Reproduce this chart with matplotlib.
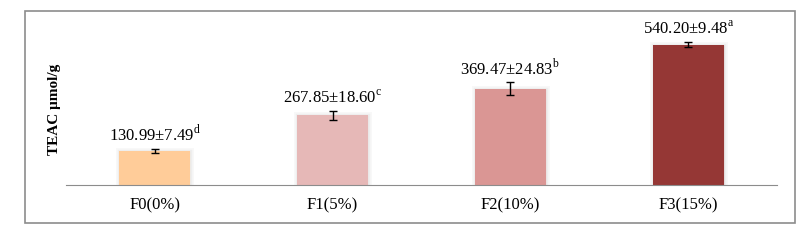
import matplotlib.pyplot as plt
import matplotlib.patheffects as pe
from matplotlib.patches import Rectangle

plt.rcParams['font.family'] = ['Liberation Serif', 'DejaVu Serif']
plt.rcParams['mathtext.fontset'] = 'custom'
plt.rcParams['mathtext.rm'] = 'Liberation Serif'

# data
groups = ['F0(0%)', 'F1(5%)', 'F2(10%)', 'F3(15%)']
teac = [130.99, 267.85, 369.47, 540.20]
sd = [7.49, 18.60, 24.83, 9.48]
letters = ['d', 'c', 'b', 'a']
colors = ['#FFCC99', '#E6B8B7', '#DA9694', '#953735']

fig = plt.figure(figsize=(8.12, 2.4), dpi=100)
ax = fig.add_axes([66 / 812, 1 - 185 / 240, 711 / 812, 156 / 240])

# outer chart border
fig.patches.append(Rectangle((25 / 812, 1 - 223 / 240), 770 / 812, 212 / 240,
                             transform=fig.transFigure, fill=False,
                             edgecolor='#8c8c8c', linewidth=1.2))

x = range(len(groups))
bars = ax.bar(x, teac, width=0.4, color=colors, zorder=2)
# soft shadow around bars
for b in bars:
    b.set_path_effects([pe.Stroke(linewidth=5, foreground='#aaaaaa', alpha=0.08),
                        pe.Stroke(linewidth=2.5, foreground='#aaaaaa', alpha=0.12),
                        pe.Normal()])

ax.errorbar(x, teac, yerr=sd, fmt='none', ecolor='black', elinewidth=1,
            capsize=3, capthick=1, zorder=3)

for i in x:
    lab = f"{teac[i]:.2f}±{sd[i]:.2f}" + r"$^{\mathrm{" + letters[i] + "}}$"
    ax.annotate(lab, (i, teac[i] + sd[i]), xytext=(0, 6), textcoords='offset points',
                ha='center', va='baseline', fontsize=12, annotation_clip=False)

ax.set_xlim(-0.5, 3.5)
ax.set_ylim(0, 600)
ax.set_xticks(list(x))
ax.set_xticklabels(groups, fontsize=12)
ax.tick_params(axis='x', length=0, pad=9)
ax.set_yticks([])
for s in ['top', 'right', 'left']:
    ax.spines[s].set_visible(False)
ax.spines['bottom'].set_color('#8c8c8c')

fig.text(55 / 812, 1 - 109 / 240, 'TEAC μmol/g', rotation=90, ha='center', va='center',
         fontsize=11, fontweight='bold')

fig.savefig('out.png', dpi=100)
